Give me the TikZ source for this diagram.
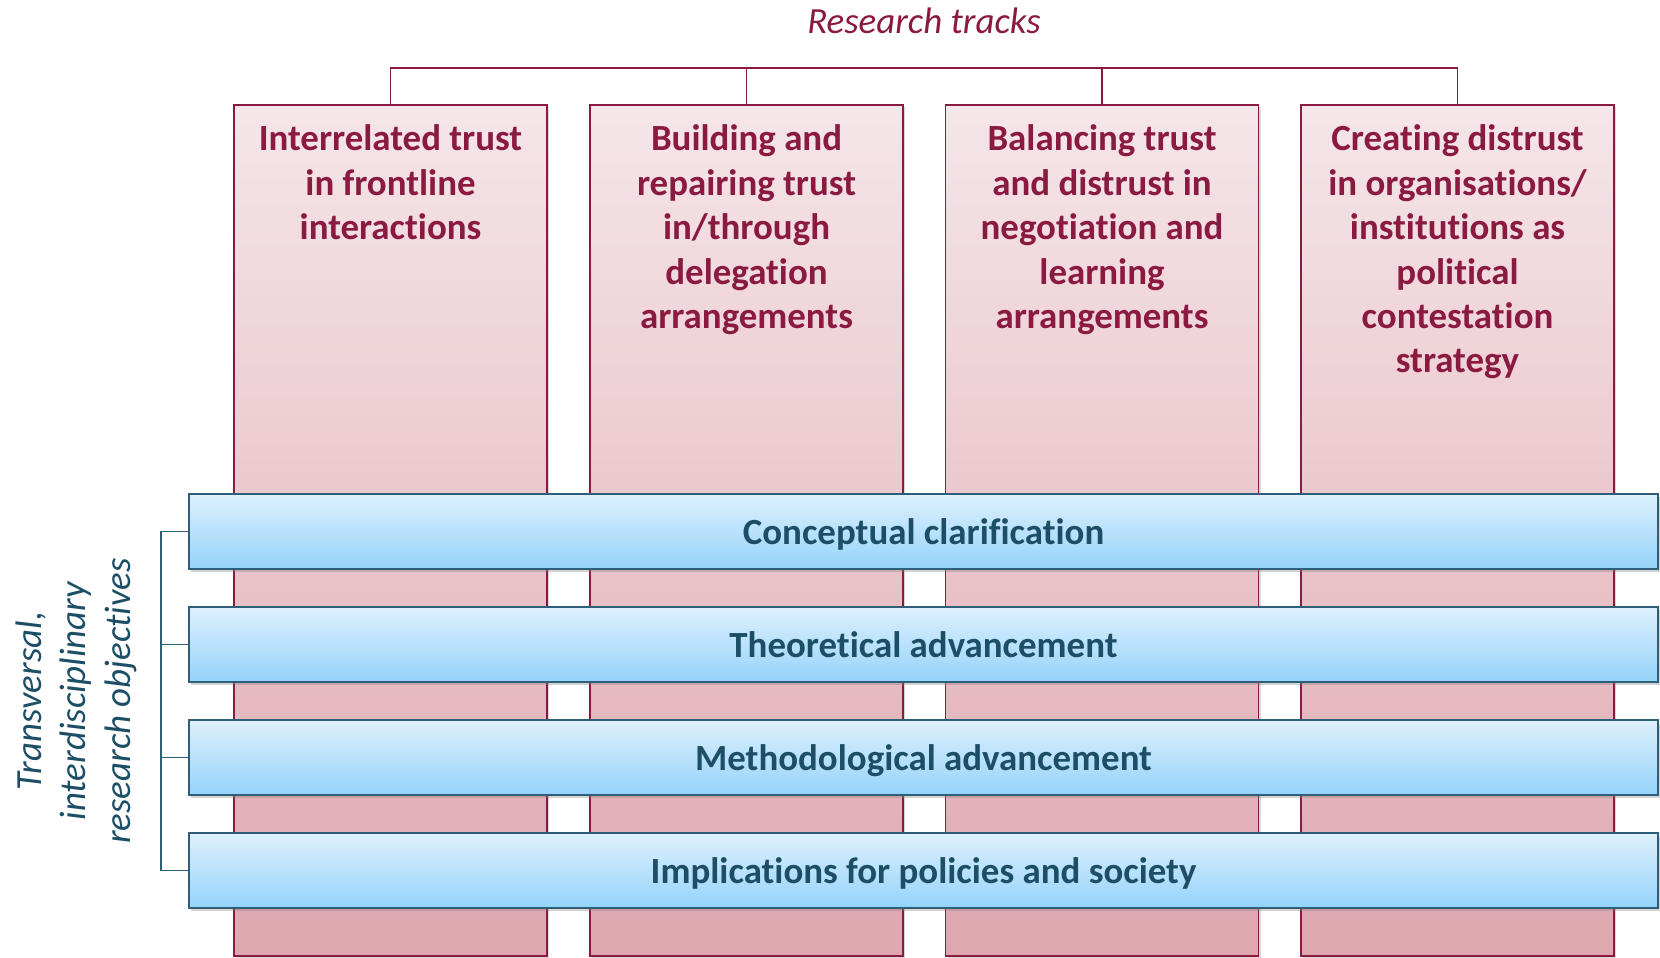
\documentclass[tikz,border=0pt]{standalone}
\usepackage{fontspec}
\setmainfont{Carlito}[RawFeature={-liga;-clig;-calt;-dlig}]
\usetikzlibrary{positioning,shadows}

\definecolor{trackred}{HTML}{8B1A42}
\definecolor{trackpinktop}{HTML}{F5E6E9}
\definecolor{trackpinkbot}{HTML}{DFA6AE}
\definecolor{objtext}{HTML}{1C4E66}
\definecolor{objborder}{HTML}{2E5E78}
\definecolor{objtop}{HTML}{DEF0FD}
\definecolor{objbot}{HTML}{94D3FA}

\begin{document}
\begin{tikzpicture}[
    track/.style={draw=trackred, line width=0.55pt,
        top color=trackpinktop, bottom color=trackpinkbot,
        minimum width=3.13cm, minimum height=8.51cm, inner sep=0pt,
        drop shadow={shadow xshift=0.6pt, shadow yshift=-0.6pt,
            opacity=0.3}},
    tracktext/.style={align=center, inner sep=0pt, text=trackred,
        font=\fontsize{10.5}{12.65}\selectfont\bfseries},
    objective/.style={draw=objborder, line width=0.55pt,
        top color=objtop, bottom color=objbot,
        minimum width=14.69cm, minimum height=0.75cm, inner sep=0pt,
        text depth=0pt,
        text=objtext, font=\fontsize{10.5}{12.65}\selectfont\bfseries,
        drop shadow={shadow xshift=0.6pt, shadow yshift=-0.9pt,
            opacity=0.35}},
    title/.style={text=trackred, font=\fontsize{10.5}{12.65}\selectfont\itshape},
    sidelabel/.style={text=objtext, align=center, rotate=90,
        font=\fontsize{10.5}{12.65}\selectfont\itshape},
    trackline/.style={draw=trackred, line width=0.55pt},
    objline/.style={draw=objborder, line width=0.55pt}
]
    \useasboundingbox (0, 0) rectangle (16.6, 9.57);

    % research tracks
    \node[title] (title) at (9.24, 9.36) {Research tracks};
    \node[track] (track1) at (3.905, 4.265) {};
    \node[track] (track2) at (7.465, 4.265) {};
    \node[track] (track3) at (11.02, 4.265) {};
    \node[track] (track4) at (14.575, 4.265) {};

    \node[tracktext, below=0.2cm of track1.north]
        {Interrelated trust\\in frontline\\interactions};
    \node[tracktext, below=0.2cm of track2.north]
        {Building and\\repairing trust\\in/through\\delegation\\arrangements};
    \node[tracktext, below=0.2cm of track3.north]
        {Balancing trust\\and distrust in\\negotiation and\\learning\\arrangements};
    \node[tracktext, below=0.2cm of track4.north]
        {Creating distrust\\in organisations/\\institutions as\\political\\contestation\\strategy};

    \coordinate (topline) at (9.24, 8.89);
    \draw[trackline] (track1.north) |- (track4.north |- topline)
        -- (track4.north);
    \draw[trackline] (track2.north) -- (track2.north |- topline);
    \draw[trackline] (track3.north) -- (track3.north |- topline);

    % transversal objectives
    \node[objective] (obj1) at (9.235, 4.255) {Conceptual clarification};
    \node[objective] (obj2) at (9.235, 3.125) {Theoretical advancement};
    \node[objective] (obj3) at (9.235, 1.995) {Methodological advancement};
    \node[objective] (obj4) at (9.235, 0.865)
        {Implications for policies and society};

    \coordinate (sideline) at (1.61, 0);
    \draw[objline] (obj1.west) -- (obj1.west -| sideline)
        -- (obj4.west -| sideline) -- (obj4.west);
    \draw[objline] (obj2.west) -- (obj2.west -| sideline);
    \draw[objline] (obj3.west) -- (obj3.west -| sideline);

    \node[sidelabel] (side) at (0.76, 2.56)
        {Transversal,\\interdisciplinary\\research objectives};
\end{tikzpicture}
\end{document}
